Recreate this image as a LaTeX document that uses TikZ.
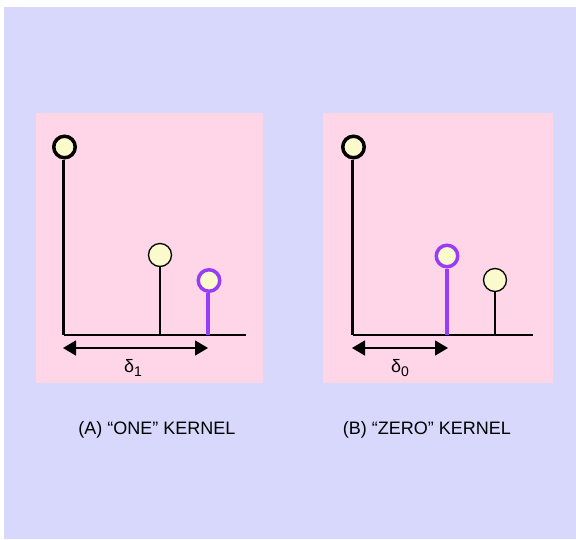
\documentclass[tikz,border=0pt]{standalone}
\usepackage{fontspec}
\setmainfont{Liberation Sans}
\usetikzlibrary{arrows.meta}
\definecolor{lav}{RGB}{216,216,252}
\definecolor{pinkbg}{RGB}{255,214,232}
\definecolor{pale}{RGB}{250,250,205}
\definecolor{purp}{RGB}{153,60,250}
\tikzset{
  bigdot/.style={circle, draw=black, fill=pale, line width=3.5pt, minimum size=21.5pt, inner sep=0pt},
  smalldot/.style={circle, draw=black, fill=pale, line width=1.3pt, minimum size=23pt, inner sep=0pt},
  purpdot/.style={circle, draw=purp, fill=pale, line width=3.5pt, minimum size=21.5pt, inner sep=0pt},
  thickstem/.style={line width=3.5pt},
  thinstem/.style={line width=1.3pt},
  purpstem/.style={line width=3.5pt, draw=purp},
  axisline/.style={line width=1.5pt},
  dimarrow/.style={line width=1.5pt, {Triangle[length=13pt,width=15pt]}-{Triangle[length=13pt,width=15pt]}},
  lbltxt/.style={font=\fontsize{18}{20}\selectfont, inner sep=0pt},
  captxt/.style={font=\fontsize{18}{20}\selectfont, inner sep=0pt}
}
\begin{document}
\begin{tikzpicture}[x=1pt,y=-1pt]
\useasboundingbox (0,0) rectangle (576,539);
\fill[white] (0,0) rectangle (576,539);
\fill[lav] (4,7) rectangle (576,539);
\fill[pinkbg] (36,113) rectangle (263,383);
\fill[pinkbg] (323,113) rectangle (553,383);
% panel A
\coordinate (a0) at (63.5,335);
\coordinate (aend) at (246,335);
\coordinate (a1) at (160,335);
\coordinate (a2) at (208,335);
\draw[axisline] (a0) -- (aend);
\node[bigdot] (A0) at (64.5,147) {};
\node[smalldot] (A1) at (160,255) {};
\node[purpdot] (A2) at (209,280.5) {};
\draw[thickstem] (a0) -- (a0 |- A0.south);
\draw[thinstem] (a1) -- (A1.south);
\draw[purpstem] (a2) -- (a2 |- A2.south);
\coordinate (ad0) at (63,348);
\coordinate (ad1) at (208,348);
\draw[dimarrow] (ad0) -- (ad1);
\node[lbltxt] (dA) at (133,368) {δ\raisebox{-0.45ex}{\fontsize{14}{16}\selectfont 1}};
% panel B
\coordinate (b0) at (352.5,335);
\coordinate (bend) at (533,335);
\coordinate (b1) at (447,335);
\coordinate (b2) at (495,335);
\draw[axisline] (b0) -- (bend);
\node[bigdot] (B0) at (353.5,147) {};
\node[purpdot] (B1) at (447,256) {};
\node[smalldot] (B2) at (495,280) {};
\draw[thickstem] (b0) -- (b0 |- B0.south);
\draw[purpstem] (b1) -- (B1.south);
\draw[thinstem] (b2) -- (B2.south);
\coordinate (bd0) at (352,348);
\coordinate (bd1) at (448,348);
\draw[dimarrow] (bd0) -- (bd1);
\node[lbltxt] (dB) at (400,368) {δ\raisebox{-0.45ex}{\fontsize{14}{16}\selectfont 0}};
% captions
\node[captxt] (capA) at (157,430) {(A) “ONE” KERNEL};
\node[captxt] (capB) at (427,430) {(B) “ZERO” KERNEL};
\end{tikzpicture}
\end{document}
